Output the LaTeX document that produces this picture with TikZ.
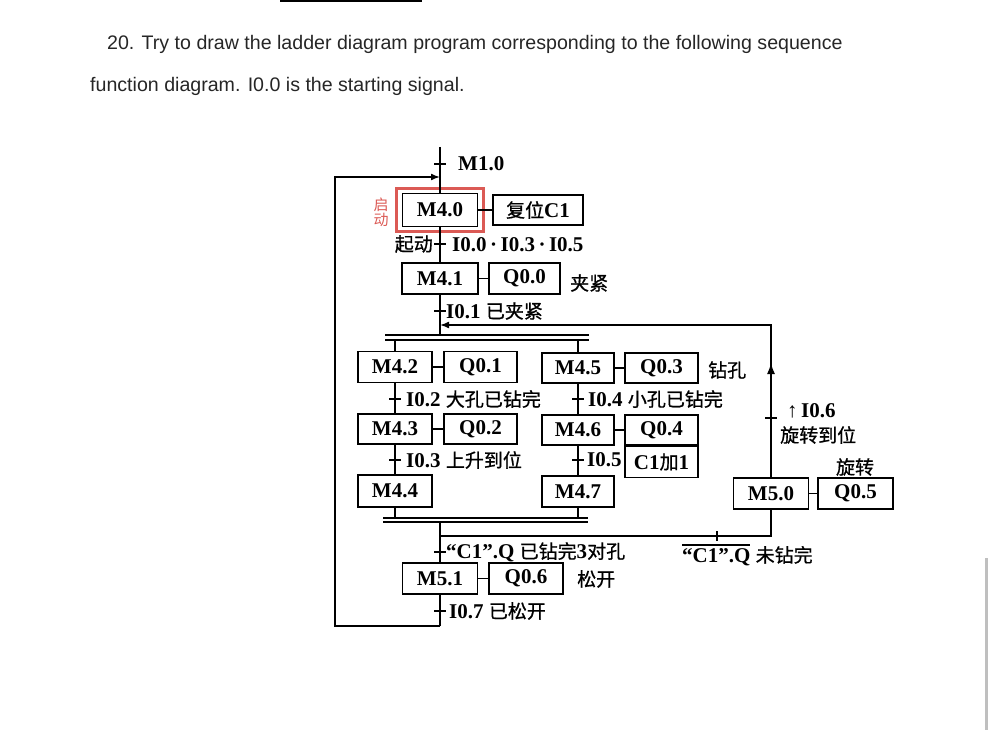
\documentclass[tikz,border=0pt]{standalone}
\usepackage{fontspec}
\setmainfont{Liberation Serif}
\newfontfamily\cjk{Noto Sans CJK SC}[FakeBold=0.8]
\newfontfamily\redcjk{Noto Sans CJK SC}
\newfontfamily\qfont{Liberation Sans}
\usetikzlibrary{arrows.meta}
\definecolor{startred}{HTML}{DB5A55}
\definecolor{textgray}{HTML}{262626}
\newcommand{\zh}[1]{{\cjk\mdseries\fontsize{19}{19}\selectfont #1}}
\newcommand{\ovl}[1]{\leavevmode\vbox{\hrule height 1.3pt \kern 2.5pt \hbox{#1}}}
\tikzset{
  wire/.style={line width=1.5pt},
  stepbox/.style={draw, line width=1.5pt, inner sep=0pt, minimum width=75pt, minimum height=31pt,
                  font=\fontsize{21}{21}\selectfont\bfseries},
  actbox/.style={stepbox},
  lbl/.style={inner sep=0pt, anchor=west, font=\fontsize{21}{21}\selectfont\bfseries},
  qline/.style={inner sep=0pt, anchor=west, text=textgray, font=\qfont\fontsize{19.6}{19.6}\selectfont},
}
\newcommand{\htick}[2]{\draw[wire] (#1-6,#2) -- (#1+6,#2);}
\begin{document}
\begin{tikzpicture}[x=1pt, y=-1pt]
  \useasboundingbox (0,0) rectangle (988,730);
  % question text
  \fill (280,0) rectangle (422,2);
  \node[qline] (title1) at (107,44) {20. Try to draw the ladder diagram program corresponding to the following sequence};
  \node[qline] (title2) at (90,86) {function diagram. I0.0 is the starting signal.};
  \fill[lightgray] (985,558) rectangle (988,730);

  % initial step
  \node[draw=startred, line width=3pt, minimum width=87pt, minimum height=43pt] (startframe) at (440,210) {};
  \node[stepbox, minimum height=33pt] (m40) at (440,210) {M4.0};
  \node[actbox, minimum width=90pt, minimum height=30pt] (c1rst) at (538,210) {\zh{复位}C1};
  \node[inner sep=0pt, align=center, text=startred, font=\redcjk\fontsize{15}{15}\selectfont] (startlbl) at (381,212) {启\\动};
  \node[lbl] (m10) at (458,164) {M1.0};

  \node[stepbox, minimum width=76pt] (m41) at (440,278.5) {M4.1};
  \node[actbox, minimum width=71pt] (q00) at (524.5,278.5) {Q0.0};
  \node[lbl] (clamp) at (570,283) {\zh{夹紧}};

  % left branch
  \node[stepbox, minimum width=74pt] (m42) at (395,367) {M4.2};
  \node[actbox, minimum width=73pt] (q01) at (480.5,367) {Q0.1};
  \node[stepbox, minimum width=74pt, minimum height=30pt] (m43) at (395,429) {M4.3};
  \node[actbox, minimum width=73pt, minimum height=30pt] (q02) at (480.5,429) {Q0.2};
  \node[stepbox, minimum width=74pt, minimum height=32pt] (m44) at (395,491) {M4.4};

  % right branch
  \node[stepbox, minimum width=72pt, minimum height=30pt] (m45) at (578,368) {M4.5};
  \node[actbox, minimum width=73pt, minimum height=30pt] (q03) at (661.5,368) {Q0.3};
  \node[lbl] (drill) at (708,370) {\zh{钻孔}};
  \node[stepbox, minimum width=72pt, minimum height=30pt] (m46) at (578,430) {M4.6};
  \node[actbox, minimum width=73pt, minimum height=30pt] (q04) at (661.5,430) {Q0.4};
  \node[actbox, minimum width=73pt, minimum height=31pt, anchor=north] (c1add) at (q04.south) {C1\zh{加}1};
  \node[stepbox, minimum width=72pt] (m47) at (578,491.5) {M4.7};

  % rotate step
  \node[stepbox] (m50) at (771,493.5) {M5.0};
  \node[actbox] (q05) at (855.5,493.5) {Q0.5};
  \node[lbl, anchor=center] (rotate) at (855,467) {\zh{旋转}};

  % release step
  \node[stepbox] (m51) at (440,578.5) {M5.1};
  \node[actbox, minimum width=74pt] (q06) at (526,578.5) {Q0.6};
  \node[lbl] (release) at (577,579) {\zh{松开}};

  % junctions
  \coordinate (top) at (440,147);
  \coordinate (loopin) at (440,177);
  \coordinate (splitin) at (440,335);
  \coordinate (backin) at (440,325);
  \coordinate (backup) at (771,325);
  \coordinate (splitl) at (395,340);
  \coordinate (splitr) at (578,340);
  \coordinate (joinl) at (395,518);
  \coordinate (joinr) at (578,518);
  \coordinate (joinout) at (440,522);
  \coordinate (jback) at (440,536);
  \coordinate (jbackr) at (771,536);
  \coordinate (bottom) at (440,626);

  % main chain
  \draw[wire] (top) -- (m40);
  \draw[wire] (m40) -- (c1rst);
  \draw[wire] (m40) -- (m41);
  \draw[wire] (m41) -- (q00);
  \draw[wire] (m41.south) -- (splitin);
  \draw[wire] (385,335) -- (589,335);
  \draw[wire] (385,340) -- (589,340);
  \draw[wire] (splitl) -- (m42.north);
  \draw[wire] (splitr) -- (m45.north);
  \draw[wire] (m42) -- (q01);
  \draw[wire] (m42) -- (m43);
  \draw[wire] (m43) -- (q02);
  \draw[wire] (m43) -- (m44);
  \draw[wire] (m45) -- (q03);
  \draw[wire] (m45) -- (m46);
  \draw[wire] (m46) -- (q04);
  \draw[wire] (m46) -- (m47);
  \draw[wire] (m44.south) -- (joinl);
  \draw[wire] (m47.south) -- (joinr);
  \draw[wire] (383,518) -- (588,518);
  \draw[wire] (383,522) -- (588,522);
  \draw[wire] (joinout) -- (m51.north);
  \draw[wire] (m51) -- (q06);
  \draw[wire] (m50) -- (q05);
  \draw[wire] (jback) -- (jbackr) -- (m50.south);
  \draw[wire, -{Latex[length=9pt, width=7pt]}] (m50.north) -- (backup) -- (backin);
  \draw[wire, -{Latex[length=11pt, width=8pt]}] (771,382) -- (771,363);
  \draw[wire] (m51.south) -- (bottom);
  \draw[wire, -{Latex[length=9pt, width=7pt]}] (bottom) -- (335,626) -- (335,177) -- (loopin);

  % transitions
  \htick{440}{164}
  \htick{440}{244}
  \htick{440}{311}
  \htick{395}{399}
  \htick{395}{460}
  \htick{578}{399}
  \htick{578}{460}
  \htick{771}{418}
  \htick{440}{552}
  \htick{440}{611}
  \draw[wire] (717,531) -- (717,541);

  % transition labels
  \node[lbl, anchor=east] (t0a) at (433,244) {\zh{起动}};
  \node[lbl] (t0b) at (452,245) {I0.0\,·\,I0.3\,·\,I0.5};
  \node[lbl] (t1) at (446,311) {I0.1 \zh{已夹紧}};
  \node[lbl] (t2) at (406,399) {I0.2 \zh{大孔已钻完}};
  \node[lbl] (t4) at (588,399) {I0.4 \zh{小孔已钻完}};
  \node[lbl] (t3) at (406,460) {I0.3 \zh{上升到位}};
  \node[lbl] (t5) at (587,460) {I0.5};
  \node[lbl] (t6a) at (787,411) {↑\,I0.6};
  \node[lbl] (t6b) at (780,435) {\zh{旋转到位}};
  \node[lbl] (tc1) at (446,552) {“C1”.Q \zh{已钻完}3\zh{对孔}};
  \node[lbl] (tc1n) at (682,555) {\ovl{“C1”.Q} \zh{未钻完}};
  \node[lbl] (t7) at (449,611) {I0.7 \zh{已松开}};
\end{tikzpicture}
\end{document}
